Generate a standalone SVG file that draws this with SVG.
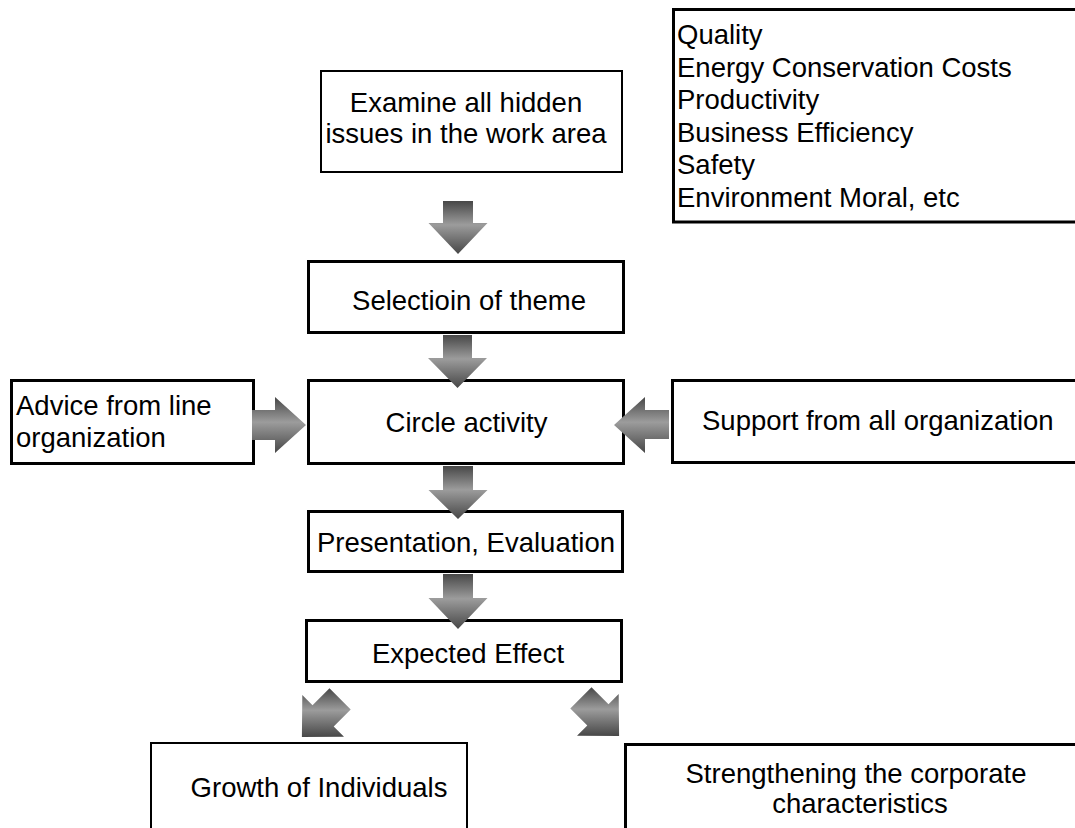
<svg xmlns="http://www.w3.org/2000/svg" width="1075" height="828" viewBox="0 0 1075 828">
  <defs>
    <linearGradient id="arrowGrad" x1="0" y1="0" x2="0" y2="1">
      <stop offset="0" stop-color="#474747"/>
      <stop offset="0.45" stop-color="#9c9c9c"/>
      <stop offset="1" stop-color="#474747"/>
    </linearGradient>
  </defs>
  <style>
    .box { fill: #ffffff; stroke: #000000; stroke-width: 3; }
    .thin { stroke-width: 2; }
    .t { font-family: "Liberation Sans", Arial, sans-serif; font-size: 27.5px; fill: #000000; }
    .c { text-anchor: middle; }
    .arrow { fill: url(#arrowGrad); stroke: none; }
  </style>
  <rect width="1075" height="828" fill="#ffffff"/>

  <g id="node-categories">
    <rect class="box" x="673.5" y="9.5" width="420" height="212.5"/>
    <text class="t" x="677" y="44">Quality</text>
    <text class="t" x="677" y="77">Energy Conservation Costs</text>
    <text class="t" x="677" y="109">Productivity</text>
    <text class="t" x="677" y="142">Business Efficiency</text>
    <text class="t" x="677" y="174">Safety</text>
    <text class="t" x="677" y="207">Environment Moral, etc</text>
  </g>

  <g id="node-examine">
    <rect class="box thin" x="321" y="71" width="301" height="101"/>
    <text class="t c" x="466" y="112">Examine all hidden</text>
    <text class="t c" x="466" y="143">issues in the work area</text>
  </g>

  <g id="node-selection">
    <rect class="box" x="308.5" y="261.5" width="315" height="71"/>
    <text class="t c" x="469" y="310">Selectioin of theme</text>
  </g>

  <g id="node-circle">
    <rect class="box" x="308.5" y="380.5" width="315" height="83"/>
    <text class="t c" x="466.5" y="432">Circle activity</text>
  </g>

  <g id="node-advice">
    <rect class="box" x="11.5" y="380.5" width="242" height="83"/>
    <text class="t" x="16" y="415">Advice from line</text>
    <text class="t" x="16" y="447">organization</text>
  </g>

  <g id="node-support">
    <rect class="box" x="672.5" y="380.5" width="420" height="82"/>
    <text class="t" x="702" y="430">Support from all organization</text>
  </g>

  <g id="node-presentation">
    <rect class="box" x="308.5" y="511.5" width="314" height="60"/>
    <text class="t c" x="466" y="552">Presentation, Evaluation</text>
  </g>

  <g id="node-expected">
    <rect class="box" x="306.5" y="620.5" width="315" height="61"/>
    <text class="t c" x="468" y="663">Expected Effect</text>
  </g>

  <g id="node-growth">
    <rect class="box thin" x="151" y="743" width="316" height="100"/>
    <text class="t c" x="319" y="797">Growth of Individuals</text>
  </g>

  <g id="node-strengthening">
    <rect class="box" x="625.5" y="744.5" width="460" height="100"/>
    <text class="t c" x="856" y="783">Strengthening the corporate</text>
    <text class="t c" x="860" y="813">characteristics</text>
  </g>

  <g id="connectors">
    <polygon class="arrow" points="443,201 473,201 473,223 487.5,223 458,254 428.5,223 443,223"/>
    <polygon class="arrow" points="443,335 472,335 472,358 487,358 457.5,388 428,358 443,358"/>
    <polygon class="arrow" points="443,466 473,466 473,490 487.5,490 458,519 428.5,490 443,490"/>
    <polygon class="arrow" points="443,574 473,574 473,598 487.5,598 458,629 428.5,598 443,598"/>
    <polygon class="arrow" points="252,410 275,410 275,397 306,425 275,453 275,440 252,440"/>
    <polygon class="arrow" points="669,410 645,410 645,397 614,425 645,453 645,439 669,439"/>
    <polygon class="arrow" points="329.5,688.3 350.7,709.5 333.7,726.5 344,736.7 301.9,737.1 302.3,695 312.5,705.3"/>
    <polygon class="arrow" points="570.3,708.5 591.5,687.3 608.5,704.3 618.7,694 619.1,736.1 577,735.7 587.3,725.5"/>
  </g>
</svg>
